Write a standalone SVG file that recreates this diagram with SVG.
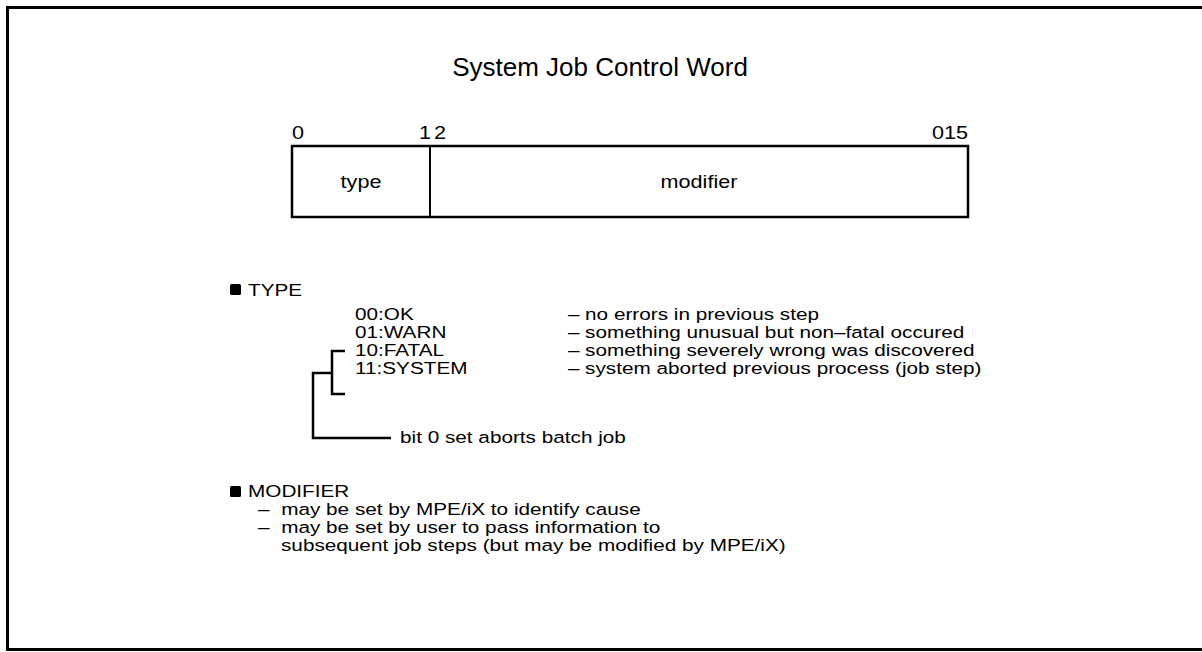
<svg xmlns="http://www.w3.org/2000/svg" width="1202" height="652" viewBox="0 0 1202 652">
<style>
text{font-family:"Liberation Sans",Arial,sans-serif;fill:#000}
.t{font-size:17px}
.n{font-size:18px}
.ln{stroke:#000;stroke-width:2.5;fill:none}
</style>
<rect x="0" y="0" width="1202" height="652" fill="#fff"/>
<rect x="7.5" y="7.5" width="1210" height="642" fill="none" stroke="#000" stroke-width="3"/>
<g id="title"><text x="600" y="76" font-size="26" text-anchor="middle">System Job Control Word</text></g>
<g id="word">
<rect x="292" y="146" width="676" height="71" fill="#fff" stroke="#000" stroke-width="2.5"/>
<line x1="430" y1="146" x2="430" y2="217" stroke="#000" stroke-width="2"/>
<text class="n" transform="translate(292,139) scale(1.2,1)">0</text>
<text class="n" transform="translate(419,139) scale(1.2,1)">1</text>
<text class="n" transform="translate(434,139) scale(1.2,1)">2</text>
<text class="n" transform="translate(968,139) scale(1.2,1)" text-anchor="end">015</text>
<text class="n" transform="translate(361,188) scale(1.2,1)" text-anchor="middle">type</text>
<text class="n" transform="translate(699,188) scale(1.2,1)" text-anchor="middle">modifier</text>
</g>
<g id="type-section">
<rect x="230" y="284" width="11" height="11" rx="1.5" fill="#000"/>
<text class="t" transform="translate(248,296) scale(1.22,1)">TYPE</text>
<text class="t" transform="translate(355,320) scale(1.22,1)">00:OK</text>
<text class="t" transform="translate(355,338) scale(1.22,1)">01:WARN</text>
<text class="t" transform="translate(355,356) scale(1.22,1)">10:FATAL</text>
<text class="t" transform="translate(355,374) scale(1.22,1)">11:SYSTEM</text>
<text class="t" transform="translate(568,320) scale(1.22,1)">–<tspan x="14">no errors in previous step</tspan></text>
<text class="t" transform="translate(568,338) scale(1.22,1)">–<tspan x="14">something unusual but non–fatal occured</tspan></text>
<text class="t" transform="translate(568,356) scale(1.22,1)">–<tspan x="14">something severely wrong was discovered</tspan></text>
<text class="t" transform="translate(568,374) scale(1.22,1)">–<tspan x="14">system aborted previous process (job step)</tspan></text>
<text class="t" transform="translate(400,443) scale(1.22,1)">bit 0 set aborts batch job</text>
</g>
<g id="connectors">
<polyline class="ln" points="345,351 332,351 332,394 345,394"/>
<polyline class="ln" points="332,373 313,373 313,438 391,438"/>
</g>
<g id="modifier-section">
<rect x="230" y="486" width="11" height="11" rx="1.5" fill="#000"/>
<text class="t" transform="translate(248,497) scale(1.22,1)">MODIFIER</text>
<text class="t" transform="translate(258,515) scale(1.22,1)">–<tspan x="19">may be set by MPE/iX to identify cause</tspan></text>
<text class="t" transform="translate(258,533) scale(1.22,1)">–<tspan x="19">may be set by user to pass information to</tspan></text>
<text class="t" transform="translate(281,551) scale(1.22,1)">subsequent job steps (but may be modified by MPE/iX)</text>
</g>
</svg>
